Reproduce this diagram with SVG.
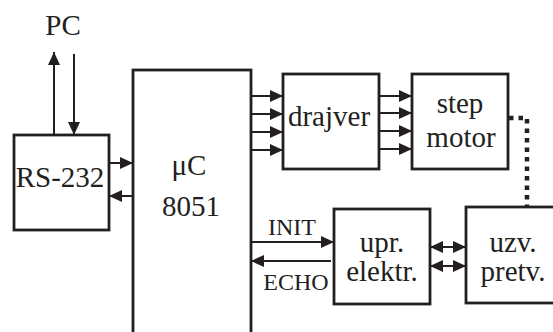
<svg xmlns="http://www.w3.org/2000/svg" width="553" height="332" viewBox="0 0 553 332">
<style>
.box{fill:#fff;stroke:#231f20;stroke-width:2.8}
.ln{stroke:#231f20;stroke-width:2;fill:none}
.dot{stroke:#231f20;stroke-width:4.5;fill:none;stroke-dasharray:4.5 5}
.t{font-size:29px;fill:#231f20;text-anchor:middle}
.sm{font-size:24px}
</style>
<defs>
<marker id="ah" markerUnits="userSpaceOnUse" markerWidth="13" markerHeight="12" viewBox="0 0 13 12" refX="13" refY="6" orient="auto-start-reverse">
<path d="M0,0 L13,6 L0,12 Z" fill="#231f20"/>
</marker>
</defs>
<rect width="553" height="332" fill="#fff"/>
<g font-family="Liberation Serif, Times New Roman, serif">
<g id="connectors">
<line class="ln" x1="54" y1="135" x2="54" y2="52" marker-end="url(#ah)"/>
<line class="ln" x1="74" y1="54" x2="74" y2="135" marker-end="url(#ah)"/>
<line class="ln" x1="109" y1="163" x2="133" y2="163" marker-end="url(#ah)"/>
<line class="ln" x1="133" y1="196" x2="109" y2="196" marker-end="url(#ah)"/>
<line class="ln" x1="251" y1="96" x2="283" y2="96" marker-end="url(#ah)"/>
<line class="ln" x1="251" y1="114" x2="283" y2="114" marker-end="url(#ah)"/>
<line class="ln" x1="251" y1="132" x2="283" y2="132" marker-end="url(#ah)"/>
<line class="ln" x1="251" y1="150" x2="283" y2="150" marker-end="url(#ah)"/>
<line class="ln" x1="376" y1="96" x2="412" y2="96" marker-end="url(#ah)"/>
<line class="ln" x1="376" y1="113" x2="412" y2="113" marker-end="url(#ah)"/>
<line class="ln" x1="376" y1="131" x2="412" y2="131" marker-end="url(#ah)"/>
<line class="ln" x1="376" y1="149" x2="412" y2="149" marker-end="url(#ah)"/>
<path class="dot" d="M509,118 H527 V207"/>
<line class="ln" x1="251" y1="242" x2="334" y2="242" marker-end="url(#ah)"/>
<line class="ln" x1="331" y1="261" x2="251" y2="261" marker-end="url(#ah)"/>
<line class="ln" x1="430" y1="247" x2="466" y2="247" marker-start="url(#ah)" marker-end="url(#ah)"/>
<line class="ln" x1="430" y1="266" x2="466" y2="266" marker-start="url(#ah)" marker-end="url(#ah)"/>
<text class="t sm" x="292" y="235">INIT</text>
<text class="t sm" x="296" y="290">ECHO</text>
</g>
<g id="pc"><text class="t" x="63" y="35">PC</text></g>
<g id="rs232"><rect class="box" x="14" y="135" width="95" height="95"/><text class="t" x="60" y="187">RS-232</text></g>
<g id="uc"><rect class="box" x="133" y="70" width="118" height="280"/><text class="t" x="189" y="175">μC</text><text class="t" x="191" y="216">8051</text></g>
<g id="drajver"><rect class="box" x="283" y="74" width="96" height="95"/><text class="t" x="329" y="126">drajver</text></g>
<g id="stepmotor"><rect class="box" x="412" y="74" width="96" height="95"/><text class="t" x="460" y="113">step</text><text class="t" x="461" y="147">motor</text></g>
<g id="upr"><rect class="box" x="334" y="209" width="96" height="95"/><text class="t" x="382" y="252">upr.</text><text class="t" x="382" y="281">elektr.</text></g>
<g id="uzv"><rect class="box" x="466" y="207" width="96" height="96"/><text class="t" x="513" y="252">uzv.</text><text class="t" x="513" y="281">pretv.</text></g>
</g>
</svg>
